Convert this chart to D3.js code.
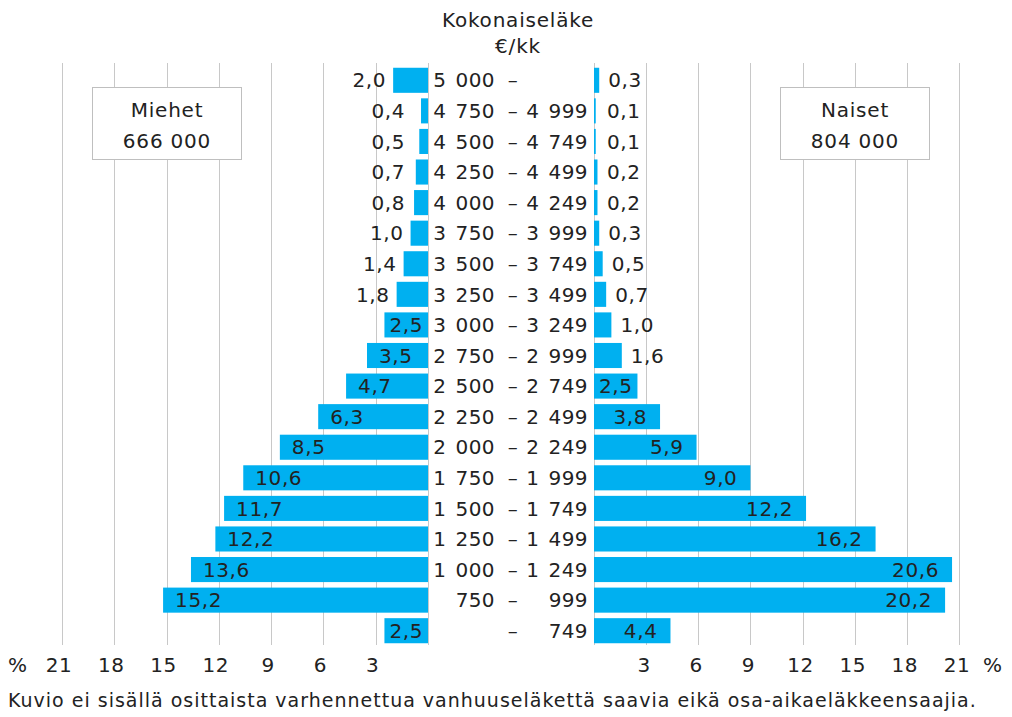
<!DOCTYPE html>
<html><head><meta charset="utf-8">
<script src="https://cdn.jsdelivr.net/npm/d3@7/dist/d3.min.js"></script>
<style>
html,body{margin:0;padding:0;background:#fff;}
svg{display:block;font-family:"DejaVu Sans",Verdana,sans-serif;}
</style></head>
<body>
<svg id="chart" width="1012" height="717"></svg>
<script>
const lowerBounds = ["5 000","4 750","4 500","4 250","4 000","3 750","3 500","3 250","3 000","2 750","2 500","2 250","2 000","1 750","1 500","1 250","1 000","750",""];
const upperBounds = ["","4 999","4 749","4 499","4 249","3 999","3 749","3 499","3 249","2 999","2 749","2 499","2 249","1 999","1 749","1 499","1 249","999","749"];
const men   = [2.0,0.4,0.5,0.7,0.8,1.0,1.4,1.8,2.5,3.5,4.7,6.3,8.5,10.6,11.7,12.2,13.6,15.2,2.5];
const women = [0.3,0.1,0.1,0.2,0.2,0.3,0.5,0.7,1.0,1.6,2.5,3.8,5.9,9.0,12.2,16.2,20.6,20.2,4.4];
const ticks = [3,6,9,12,15,18,21];
const titleLines = ["Kokonaiseläke","€/kk"];
const legendMen = ["Miehet","666 000"];
const legendWomen = ["Naiset","804 000"];
const footnote = "Kuvio ei sisällä osittaista varhennettua vanhuuseläkettä saavia eikä osa-aikaeläkkeensaajia.";

const svg = d3.select("#chart");
const FS = 20;
const LS = 0.6;
const txtColor = "#222";
const barColor = "#00b0f0";
const gridColor = "#c8c8c8";

const idx = d3.range(men.length);
const y = d3.scaleBand().domain(idx).range([65, 646]).paddingInner(0.18).paddingOuter(0.09);
const xL = d3.scaleLinear().domain([0,21]).range([428, 62]);
const xR = d3.scaleLinear().domain([0,21]).range([594, 959]);
const gTop = 63, gBot = 645;

const fmt = v => d3.format(".1f")(v).replace(".", ",");

// measure helper
const meas = svg.append("text").attr("font-size", FS).attr("letter-spacing", LS).attr("x",-1000).attr("y",-1000);
function tw(s){ meas.text(s); return meas.node().getComputedTextLength(); }

// gridlines
const grid = svg.append("g").attr("stroke", gridColor).attr("stroke-width", 1);
[0].concat(ticks).forEach(t=>{
  grid.append("line").attr("x1", Math.round(xL(t))+0.5).attr("x2", Math.round(xL(t))+0.5).attr("y1", gTop).attr("y2", gBot);
  grid.append("line").attr("x1", Math.round(xR(t))+0.5).attr("x2", Math.round(xR(t))+0.5).attr("y1", gTop).attr("y2", gBot);
});

// bars
svg.append("g").selectAll("rect").data(idx).join("rect")
  .attr("x", i => xL(men[i])).attr("y", i => y(i))
  .attr("width", i => xL(0) - xL(men[i])).attr("height", y.bandwidth())
  .attr("fill", barColor);
svg.append("g").selectAll("rect").data(idx).join("rect")
  .attr("x", xR(0)).attr("y", i => y(i))
  .attr("width", i => xR(women[i]) - xR(0)).attr("height", y.bandwidth())
  .attr("fill", barColor);

// value labels
const lab = svg.append("g").attr("font-size", FS).attr("letter-spacing", LS).attr("fill", txtColor);
idx.forEach(i=>{
  const cy = y(i) + y.bandwidth()/2;
  // men
  let s = fmt(men[i]), w = tw(s), bw = xL(0) - xL(men[i]);
  if (bw >= w + 4) {
    const pad = Math.min(12, (bw - w)/2);
    lab.append("text").attr("x", xL(men[i]) + pad).attr("y", cy).attr("dy","0.36em").attr("text-anchor","start").text(s);
  } else {
    lab.append("text").attr("x", Math.min(xL(men[i]) - 7, 405)).attr("y", cy).attr("dy","0.36em").attr("text-anchor","end").text(s);
  }
  // women
  s = fmt(women[i]); w = tw(s); bw = xR(women[i]) - xR(0);
  if (bw >= w + 4) {
    const pad = Math.min(13, (bw - w)/2);
    lab.append("text").attr("x", xR(women[i]) - pad).attr("y", cy).attr("dy","0.36em").attr("text-anchor","end").text(s);
  } else {
    lab.append("text").attr("x", Math.max(xR(women[i]) + 9, 607)).attr("y", cy).attr("dy","0.36em").attr("text-anchor","start").text(s);
  }
});

// category labels
const cat = svg.append("g").attr("font-size", FS).attr("letter-spacing", 0.4).attr("word-spacing", 2.5).attr("fill", txtColor);
idx.forEach(i=>{
  const cy = y(i) + y.bandwidth()/2;
  if (lowerBounds[i]) cat.append("text").attr("x", 495).attr("y", cy).attr("dy","0.36em").attr("text-anchor","end").text(lowerBounds[i]);
  cat.append("text").attr("x", 513).attr("y", cy).attr("dy","0.36em").attr("text-anchor","middle").text("–");
  if (upperBounds[i]) cat.append("text").attr("x", 588).attr("y", cy).attr("dy","0.36em").attr("text-anchor","end").text(upperBounds[i]);
});

// axes tick labels
const ax = svg.append("g").attr("font-size", FS).attr("letter-spacing", LS).attr("fill", txtColor);
ticks.forEach(t=>{
  ax.append("text").attr("x", xL(t) - 3).attr("y", 672).attr("text-anchor","middle").text(t);
  ax.append("text").attr("x", xR(t) - 2).attr("y", 672).attr("text-anchor","middle").text(t);
});
ax.append("text").attr("x", 8).attr("y", 672).text("%");
ax.append("text").attr("x", 983).attr("y", 672).text("%");

// title
svg.append("g").attr("font-size", FS).attr("letter-spacing", 0.8).attr("fill", txtColor).attr("text-anchor","middle")
  .selectAll("text").data(titleLines).join("text")
  .attr("x", 518).attr("y", (d,i)=> 27 + i*26).text(d=>d);

// legend boxes
function legend(x0, lines){
  const g = svg.append("g");
  g.append("rect").attr("x", x0+0.5).attr("y", 87.5).attr("width", 149).attr("height", 72)
    .attr("fill","#fff").attr("stroke","#bfbfbf").attr("stroke-width",1);
  g.selectAll("text").data(lines).join("text").attr("font-size", FS).attr("letter-spacing", 0.8).attr("fill", txtColor)
    .attr("text-anchor","middle").attr("x", x0 + 75).attr("y",(d,i)=>117 + i*31).text(d=>d);
}
legend(92, legendMen);
legend(780, legendWomen);

// footnote
svg.append("text").attr("x", 8).attr("y", 707).attr("font-size", 19).attr("letter-spacing", 1).attr("fill", txtColor).text(footnote);
meas.remove();
</script>
</body></html>
